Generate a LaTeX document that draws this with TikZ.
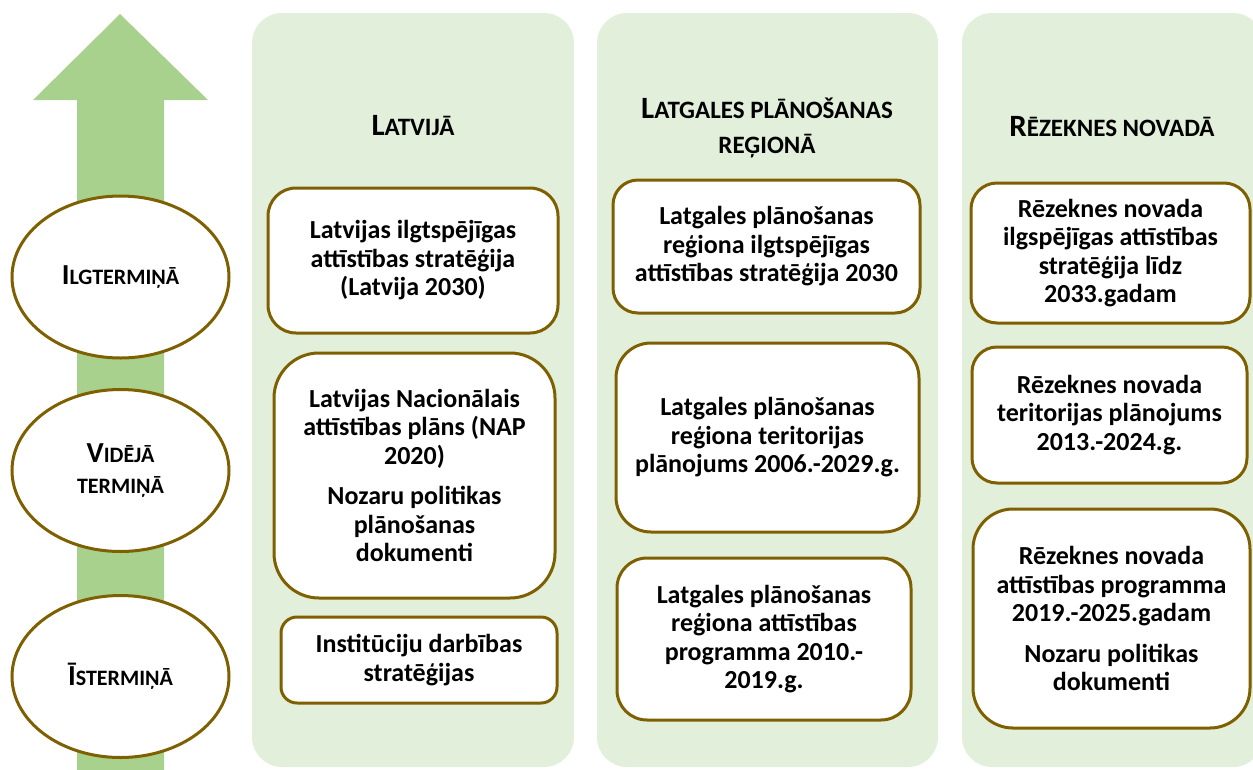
\documentclass[tikz,border=0pt]{standalone}
\usepackage{fontspec}
\setmainfont{Carlito}
\usetikzlibrary{shapes.geometric}
\definecolor{panelgreen}{HTML}{E2EFDA}
\definecolor{arrowgreen}{HTML}{A9D18E}
\definecolor{docborder}{HTML}{7F6000}
% first letter of a small-caps title
\newcommand{\upc}[2]{{\fontsize{#1}{#1}\selectfont #2}}

\begin{document}
\begin{tikzpicture}[x=1pt,y=-1pt,
  panel/.style={fill=panelgreen, rounded corners=30pt},
  doc/.style={draw=docborder, line width=3pt, fill=white, align=center, inner sep=0pt,
    font=\fontsize{26}{28.5}\selectfont\bfseries},
  term/.style={ellipse, draw=docborder, line width=3pt, fill=white, inner sep=0pt,
    minimum width=217pt, minimum height=162pt, align=center,
    font=\fontsize{22}{31}\selectfont\bfseries},
  head/.style={align=center, font=\fontsize{25}{35}\selectfont\bfseries}]
\useasboundingbox (0,0) rectangle (1253,769);

% time arrow
\fill [arrowgreen] (77,780) -- (77,100) -- (33,100) -- (120,14) -- (208,100) -- (164,100) -- (164,780) -- cycle;

% columns
\fill [panel] (252,13) rectangle (574,767);
\fill [panel] (597,13) rectangle (938,767);
\fill [panel] (962,13) rectangle (1263,767);

% terms
\node [term] (ilg) at (120.5,277) {\upc{29}{I}LGTERMIŅĀ};
\node [term] (vid) at (120.5,470.5) {\upc{29}{V}IDĒJĀ\\TERMIŅĀ};
\node [term] (ist) at (120.5,676.5) {\upc{29}{Ī}STERMIŅĀ};

% column titles
\node [head] (latvija) at (413,126) {\upc{31}{L}ATVIJĀ};
\node [head] (latgale) at (767,128) {\upc{31}{L}ATGALES PLĀNOŠANAS\\REĢIONĀ};
\node [head] (rezekne) at (1112,127) {\upc{31}{R}ĒZEKNES NOVADĀ};

% Latvija
\node [doc, minimum width=290pt, minimum height=145pt, rounded corners=28pt] (lvA) at (413,260.5)
  {Latvijas ilgtspējīgas\\attīstības stratēģija\\(Latvija 2030)};
\node [doc, minimum width=281pt, minimum height=245pt, rounded corners=45pt] (lvB) at (414.5,475.5)
  {Latvijas Nacionālais\\attīstības plāns (NAP\\2020)\\[12pt]Nozaru politikas\\plānošanas\\dokumenti};
\node [doc, minimum width=276pt, minimum height=86pt, rounded corners=16pt] (lvC) at (419,660)
  {Institūciju darbības\\stratēģijas};

% Latgales planosanas regions
\node [doc, minimum width=307pt, minimum height=133pt, rounded corners=25pt] (lgA) at (766.5,246.5)
  {Latgales plānošanas\\reģiona ilgtspējīgas\\attīstības stratēģija 2030};
\node [doc, minimum width=303pt, minimum height=189pt, rounded corners=35pt] (lgB) at (767.5,437.5)
  {Latgales plānošanas\\reģiona teritorijas\\plānojums 2006.-2029.g.};
\node [doc, minimum width=294pt, minimum height=162pt, rounded corners=30pt] (lgC) at (764,639)
  {Latgales plānošanas\\reģiona attīstības\\programma 2010.-\\2019.g.};

% Rezeknes novads
\node [doc, minimum width=279pt, minimum height=140pt, rounded corners=26pt] (rzA) at (1110.5,253)
  {Rēzeknes novada\\ilgspējīgas attīstības\\stratēģija līdz\\2033.gadam};
\node [doc, minimum width=275pt, minimum height=136pt, rounded corners=25pt] (rzB) at (1109.5,415)
  {Rēzeknes novada\\teritorijas plānojums\\2013.-2024.g.};
\node [doc, minimum width=277pt, minimum height=219pt, rounded corners=40pt] (rzC) at (1111.5,618.5)
  {Rēzeknes novada\\attīstības programma\\2019.-2025.gadam\\[12pt]Nozaru politikas\\dokumenti};
\end{tikzpicture}
\end{document}
